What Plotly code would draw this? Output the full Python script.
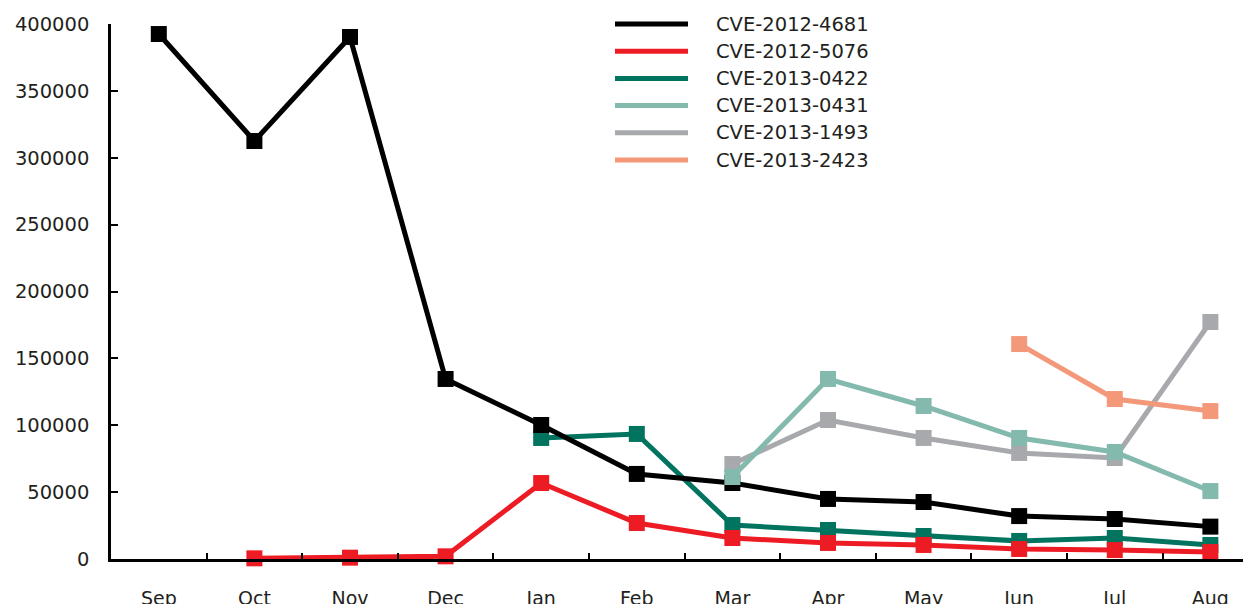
import plotly.graph_objects as go

months = ["Sep", "Oct", "Nov", "Dec", "Jan", "Feb", "Mar", "Apr", "May", "Jun", "Jul", "Aug"]

cve_2012_4681 = [392500, 312500, 390300, 134600, 100200, 63600, 56800, 44900, 42600, 32100, 29900, 24200]
cve_2012_5076 = [None, 500, 1000, 2000, 56800, 26900, 15700, 12000, 10500, 7500, 6700, 5200]
cve_2013_0422 = [None, None, None, None, 90500, 93500, 25400, 21700, 17200, 13500, 15700, 10500]
cve_2013_0431 = [None, None, None, None, None, None, 61300, 134600, 114400, 90500, 80000, 50800]
cve_2013_1493 = [None, None, None, None, None, None, 71000, 103900, 90500, 79300, 75500, 177200]
cve_2013_2423 = [None, None, None, None, None, None, None, None, None, 160700, 119600, 110600]

series_names = ["CVE-2012-4681", "CVE-2012-5076", "CVE-2013-0422", "CVE-2013-0431", "CVE-2013-1493", "CVE-2013-2423"]
series_values = [cve_2012_4681, cve_2012_5076, cve_2013_0422, cve_2013_0431, cve_2013_1493, cve_2013_2423]
series_colors = ["#000000", "#ED1C24", "#00745F", "#84B9AE", "#A7A9AC", "#F4987A"]
draw_order = ["CVE-2013-0422", "CVE-2012-5076", "CVE-2012-4681", "CVE-2013-1493", "CVE-2013-0431", "CVE-2013-2423"]

y_ticks = [0, 50000, 100000, 150000, 200000, 250000, 300000, 350000, 400000]

FONT = "DejaVu Sans"
TXT = "#231F20"
OFF = 8  # page body margin
W, H = 1251 - OFF, 604 - OFF
ML, MR, MT, MB = 111 - OFF, 0, 24 - OFF, 604 - 559
PW, PH = W - ML - MR, H - MT - MB

def px_x(px):
    return (px - OFF - ML) / PW

def px_y(py):
    return (H - MB - (py - OFF)) / PH

fig = go.Figure()
lookup = {n: (v, c) for n, v, c in zip(series_names, series_values, series_colors)}
for name in draw_order:
    vals, col = lookup[name]
    fig.add_trace(go.Scatter(
        x=months, y=vals, mode="lines+markers", name=name, showlegend=False,
        line=dict(color=col, width=5),
        marker=dict(symbol="square", size=16, color=col),
        cliponaxis=False, connectgaps=False,
    ))

# legend (line swatch + label), laid out like the reference
shapes = []
annotations = []
for i, (name, col) in enumerate(zip(series_names, series_colors)):
    ry = 24 + 27.2 * i
    shapes.append(dict(type="line", xref="paper", yref="paper",
                       x0=px_x(615), x1=px_x(688), y0=px_y(ry), y1=px_y(ry),
                       line=dict(color=col, width=5)))
    annotations.append(dict(xref="paper", yref="paper", x=px_x(714), y=px_y(ry),
                            xanchor="left", yanchor="middle", showarrow=False,
                            text=name, font=dict(family=FONT, size=19.5, color=TXT)))

fig.update_layout(
    width=W, height=H,
    margin=dict(l=ML, r=MR, t=MT, b=MB),
    paper_bgcolor="white", plot_bgcolor="white",
    font=dict(family=FONT, size=19.5, color=TXT),
    showlegend=False,
    shapes=shapes, annotations=annotations,
    xaxis=dict(
        type="category", categoryorder="array", categoryarray=months,
        range=[-0.5, 11.425], automargin=False,
        showgrid=False, zeroline=False,
        showline=True, linecolor="black", linewidth=2.5,
        ticks="inside", tickson="boundaries", ticklen=6, tickwidth=2, tickcolor="black",
        ticklabelstandoff=20,
        tickfont=dict(family=FONT, size=19, color=TXT),
    ),
    yaxis=dict(
        range=[0, 400000], tickvals=y_ticks, tickformat="d", automargin=False,
        showgrid=False, zeroline=False,
        showline=True, linecolor="black", linewidth=2.5,
        ticks="inside", ticklen=7, tickwidth=2, tickcolor="black",
        ticklabelstandoff=15,
        tickfont=dict(family=FONT, size=19.5, color=TXT),
    ),
)

fig.write_html("out.html")
